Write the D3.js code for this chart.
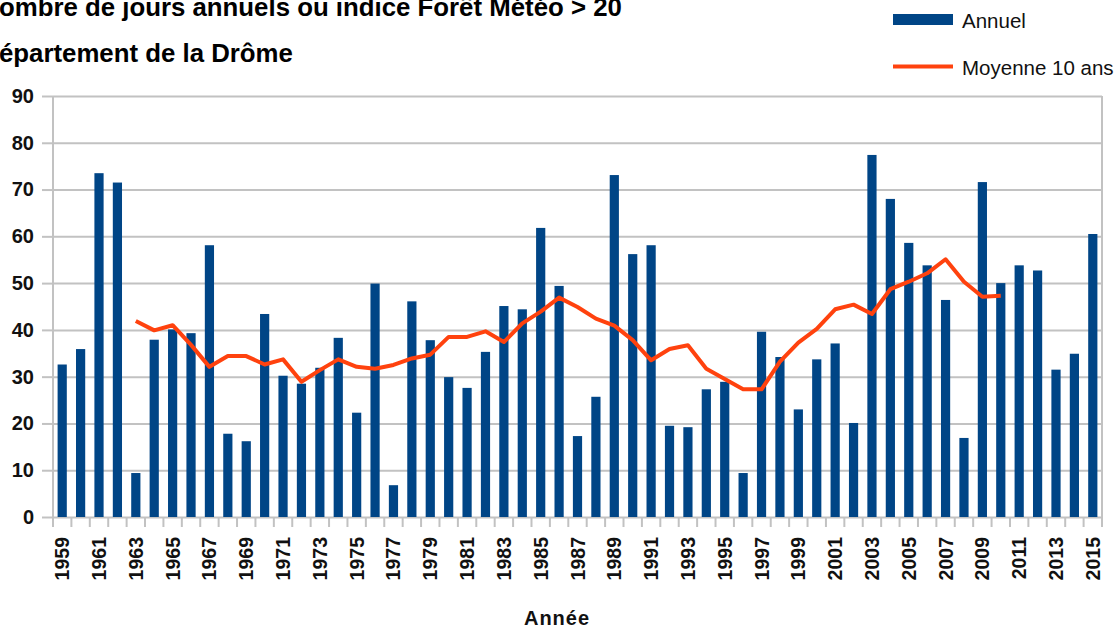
<!DOCTYPE html>
<html>
<head>
<meta charset="utf-8">
<script src="https://cdn.jsdelivr.net/npm/d3@7"></script>
<style>
  body { margin: 0; background: #fff; }
  svg { display: block; font-family: "Liberation Sans", Arial, sans-serif; }
</style>
</head>
<body>
<svg id="chart"></svg>
<script>
// Nombre de jours annuels, Drôme
const years = [1959, 1960, 1961, 1962, 1963, 1964, 1965, 1966, 1967, 1968,
  1969, 1970, 1971, 1972, 1973, 1974, 1975, 1976, 1977, 1978,
  1979, 1980, 1981, 1982, 1983, 1984, 1985, 1986, 1987, 1988,
  1989, 1990, 1991, 1992, 1993, 1994, 1995, 1996, 1997, 1998,
  1999, 2000, 2001, 2002, 2003, 2004, 2005, 2006, 2007, 2008,
  2009, 2010, 2011, 2012, 2013, 2014, 2015]

const annuel = [32.6, 35.9, 73.5, 71.5, 9.4, 37.9, 40.1, 39.3, 58.1, 17.8,
  16.2, 43.4, 30.2, 28.5, 31.9, 38.3, 22.3, 49.9, 6.8, 46.1,
  37.8, 29.9, 27.6, 35.3, 45.1, 44.4, 61.8, 49.4, 17.3, 25.7,
  73.1, 56.2, 58.1, 19.5, 19.2, 27.3, 28.9, 9.4, 39.6, 34.2,
  23.0, 33.7, 37.1, 20.1, 77.4, 68.0, 58.6, 53.8, 46.4, 16.9,
  71.6, 50.0, 53.8, 52.7, 31.5, 34.9, 60.5]

// moyenne glissante 10 ans (1963 -> 2010)
const moyenne = [null, null, null, null, 41.9, 39.9, 41.0, 36.8, 32.1, 34.4,
  34.4, 32.6, 33.7, 28.9, 31.4, 33.7, 32.1, 31.7, 32.5, 33.9,
  34.7, 38.5, 38.5, 39.7, 37.4, 41.4, 43.9, 46.9, 44.9, 42.4,
  40.9, 37.8, 33.5, 35.9, 36.7, 31.7, 29.5, 27.3, 27.3, 33.2,
  37.3, 40.2, 44.4, 45.4, 43.4, 48.7, 50.3, 52.1, 55.1, 50.3,
  47.1, 47.3, null, null, null, null, null]

const yTicks = [0, 10, 20, 30, 40, 50, 60, 70, 80, 90]
const titleLines = ['Nombre de jours annuels ou indice Forêt Météo > 20', 'Département de la Drôme']
const seriesNames = ['Annuel', 'Moyenne 10 ans']
const xTitle = 'Année'

const width = 1118
const height = 630
const marginLeft = 53
const marginRight = 16
const marginTop = 96
const marginBottom = 113
const barColor = '#004586'
const lineColor = '#ff420e'
const gridColor = '#c2c2c2'

const svg = d3.select('#chart')
  .attr('width', width)
  .attr('height', height)
  .attr('viewBox', [0, 0, width, height])

const x = d3.scaleBand().domain(years).range([marginLeft, width - marginRight])
const y = d3.scaleLinear().domain([0, 90]).range([height - marginBottom, marginTop])

// y axis + gridlines
svg.append('g')
  .attr('transform', `translate(${marginLeft},0)`)
  .call(d3.axisLeft(y).tickValues(yTicks).tickSize(11).tickPadding(8))
  .call(g => g.select('.domain').remove())
  .call(g => g.selectAll('.tick line').clone()
    .attr('x2', width - marginLeft - marginRight))
  .call(g => g.selectAll('.tick line')
    .attr('stroke', gridColor).attr('stroke-width', 2))
  .call(g => g.selectAll('.tick text')
    .attr('fill', '#111')
    .attr('font-size', 20)
    .attr('font-weight', 'bold')
    .attr('font-family', '"Liberation Sans", Arial, sans-serif'))

// left axis line and right frame
svg.append('line')
  .attr('x1', marginLeft).attr('x2', marginLeft)
  .attr('y1', y(90)).attr('y2', y(0))
  .attr('stroke', gridColor).attr('stroke-width', 2)
svg.append('line')
  .attr('x1', width - marginRight).attr('x2', width - marginRight)
  .attr('y1', y(90)).attr('y2', y(0))
  .attr('stroke', gridColor).attr('stroke-width', 2)

// x ticks at category boundaries
const bounds = years.map(d => x(d)).concat([x(years[years.length - 1]) + x.bandwidth()])
svg.append('g')
  .selectAll('line')
  .data(bounds)
  .join('line')
  .attr('x1', d => d).attr('x2', d => d)
  .attr('y1', y(0)).attr('y2', y(0) + 10)
  .attr('stroke', gridColor).attr('stroke-width', 2)

// bars
const barW = x.bandwidth() * 0.5
svg.append('g')
  .attr('fill', barColor)
  .selectAll('rect')
  .data(years)
  .join('rect')
  .attr('x', (d, i) => x(d) + (x.bandwidth() - barW) / 2)
  .attr('y', (d, i) => y(annuel[i]))
  .attr('width', barW)
  .attr('height', (d, i) => y(0) - y(annuel[i]))

// x labels (one year out of two)
svg.append('g')
  .attr('transform', `translate(0,${y(0)})`)
  .call(d3.axisBottom(x).tickSize(0).tickFormat((d, i) => i % 2 === 0 ? d : ''))
  .call(g => g.select('.domain').remove())
  .call(g => g.selectAll('.tick text')
    .attr('transform', 'rotate(-90)')
    .attr('text-anchor', 'end')
    .attr('x', -20)
    .attr('y', 0)
    .attr('dy', '0.36em')
    .attr('fill', '#111')
    .attr('font-size', 19.5)
    .attr('font-weight', 'bold')
    .attr('font-family', '"Liberation Sans", Arial, sans-serif'))

// moving average line
const line = d3.line()
  .defined((d, i) => moyenne[i] !== null)
  .x(d => x(d) + x.bandwidth() / 2)
  .y((d, i) => y(moyenne[i]))
svg.append('path')
  .attr('fill', 'none')
  .attr('stroke', lineColor)
  .attr('stroke-width', 4)
  .attr('stroke-linejoin', 'round')
  .attr('stroke-linecap', 'butt')
  .attr('d', line(years))

// titles (cropped on the left like the original picture)
const t1 = svg.append('text')
  .attr('y', 16)
  .attr('font-size', 25.8)
  .attr('font-weight', 'bold')
  .attr('fill', '#000')
  .text(titleLines[0])
t1.attr('x', -t1.node().getSubStringLength(0, 1) - 1)
const t2 = svg.append('text')
  .attr('y', 62)
  .attr('font-size', 25.8)
  .attr('font-weight', 'bold')
  .attr('fill', '#000')
  .text(titleLines[1])
t2.attr('x', -t2.node().getSubStringLength(0, 1) - 1)

// axis title
svg.append('text')
  .attr('x', 557)
  .attr('y', 625)
  .attr('text-anchor', 'middle')
  .attr('font-size', 20)
  .attr('font-weight', 'bold')
  .attr('letter-spacing', 1)
  .attr('fill', '#111')
  .text(xTitle)

// legend
const legend = svg.append('g')
legend.append('rect')
  .attr('x', 893).attr('y', 14)
  .attr('width', 60).attr('height', 11)
  .attr('fill', barColor)
legend.append('text')
  .attr('x', 962).attr('y', 28)
  .attr('font-size', 20.5)
  .attr('fill', '#111')
  .text(seriesNames[0])
legend.append('line')
  .attr('x1', 893).attr('x2', 953)
  .attr('y1', 66.5).attr('y2', 66.5)
  .attr('stroke', lineColor).attr('stroke-width', 4)
legend.append('text')
  .attr('x', 962).attr('y', 75)
  .attr('font-size', 20.5)
  .attr('fill', '#111')
  .text(seriesNames[1])
</script>
</body>
</html>
